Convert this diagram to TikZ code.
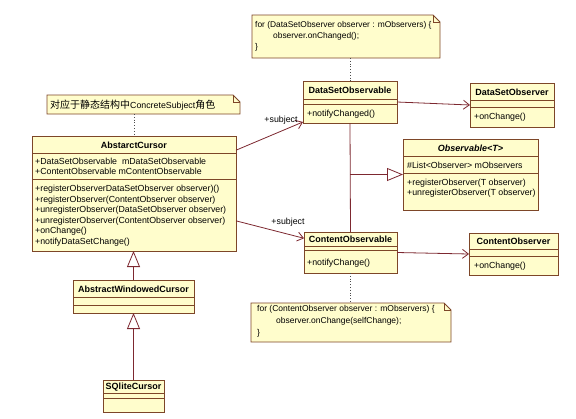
\documentclass[tikz,border=0pt]{standalone}
\usepackage{fontspec}
\setmainfont{Liberation Sans}
\newfontfamily\cjk{Noto Sans CJK SC}
\usetikzlibrary{arrows.meta}
\definecolor{clsfill}{RGB}{255,253,204}
\definecolor{clsdraw}{RGB}{125,70,40}
\definecolor{conn}{RGB}{125,40,48}
\tikzset{
  clsbox/.style={draw=clsdraw, fill=clsfill, line width=0.9pt, inner sep=0, outer sep=0},
  clsline/.style={draw=clsdraw, line width=0.9pt},
  noteline/.style={draw=clsdraw, fill=clsfill, line width=0.8pt},
  nm/.style={font=\fontsize{9}{10.5}\selectfont\bfseries, inner sep=0},
  txt/.style={anchor=west, inner sep=0, font=\fontsize{8.8}{10.5}\selectfont},
  txtblk/.style={anchor=north west, inner sep=0, align=left},
  assoc/.style={draw=conn, line width=0.8pt, -{Straight Barb[length=6pt,width=9pt]}},
  gen/.style={draw=conn, line width=0.8pt, -{Triangle[open,length=16pt,width=13pt]}},
  noteconn/.style={draw=black!70, line width=0.8pt, dotted},
}
\newcommand\umlbox[7]{%
  \node[clsbox, minimum width={#4-#2}, minimum height={#5-#3}, anchor=north west] (#1) at (#2,#3) {};
  \draw[clsline] (#2,#6) -- (#4,#6) (#2,#7) -- (#4,#7);
}
\newcommand\umlnote[5]{%
  \node[minimum width={#4-#2}, minimum height={#5-#3}, anchor=north west, inner sep=0, outer sep=0] (#1) at (#2,#3) {};
  \draw[noteline] (#1.north west) -- ([xshift=-7pt]#1.north east) -- ([yshift=-7pt]#1.north east) -- (#1.south east) -- (#1.south west) -- cycle;
  \draw[clsline, line width=0.8pt] ([xshift=-7pt]#1.north east) |- ([yshift=-7pt]#1.north east);
}
\begin{document}
\begin{tikzpicture}[x=1pt,y=-1pt]
\useasboundingbox[fill=white] (0,0) rectangle (576,418);

% notes
\umlnote{nA}{252}{15}{440}{58}
\umlnote{nB}{251}{303}{451}{342}
\umlnote{nC}{47}{95}{240}{114}

% classes
\umlbox{ac}{32}{136}{236}{251}{153}{179}
\umlbox{dso}{303}{81}{397}{123}{99}{104}
\umlbox{dsobs}{470}{83}{554}{127}{100}{107}
\umlbox{obs}{403}{139}{538}{210}{156}{173}
\umlbox{co}{304}{232}{397}{273}{246}{250}
\umlbox{cobs}{469}{233}{558}{275}{249}{256}
\umlbox{awc}{73}{280}{194}{313}{297}{305}
\umlbox{sq}{103}{380}{164}{412}{393}{398}

% note texts
\node[txtblk, font=\fontsize{8.4}{11}\selectfont] (nAt) at (255,21.2)
  {for (DataSetObserver observer : mObservers) \{\\\hspace*{18pt}observer.onChanged();\\\}};
\node[txtblk, font=\fontsize{8.5}{12}\selectfont] (nBt) at (257,305.5)
  {for (ContentObserver observer : mObservers) \{\\\hspace*{19pt}observer.onChange(selfChange);\\\}};
\node[txt] (nCt) at (50,105) {{\cjk\fontsize{10}{11}\selectfont 对应于静态结构中}ConcreteSubject{\cjk\fontsize{10}{11}\selectfont 角色}};

% class texts
\node[nm] (acN) at (134,145) {AbstarctCursor};
\node[txtblk, font=\fontsize{8.8}{10}\selectfont] (acA) at (35,157.9)
  {+DataSetObservable\ \ mDataSetObservable\\+ContentObservable mContentObservable};
\node[txtblk, font=\fontsize{8.8}{10.5}\selectfont] (acO) at (35,185.2)
  {+registerObserverDataSetObserver observer)()\\
   +registerObserver(ContentObserver observer)\\
   +unregisterObserver(DataSetObserver observer)\\
   +unregisterObserver(ContentObserver observer)\\
   +onChange()\\
   +notifyDataSetChange()};

\node[nm] (dsoN) at (350,90) {DataSetObservable};
\node[txt] (dsoO) at (307,114.3) {+notifyChanged()};
\node[nm] (dsobsN) at (512,92) {DataSetObserver};
\node[txt] (dsobsO) at (474,117) {+onChange()};
\node[nm, font=\fontsize{9}{10.5}\selectfont\bfseries\itshape] (obsN) at (470.5,148) {Observable<T>};
\node[txt] (obsA) at (407,165) {\#List<Observer> mObservers};
\node[txtblk, font=\fontsize{8.8}{9.6}\selectfont] (obsO) at (407,178.9)
  {+registerObserver(T observer)\\+unregisterObserver(T observer)};
\node[nm] (coN) at (350.5,239) {ContentObservable};
\node[txt] (coO) at (307,263) {+notifyChange()};
\node[nm] (cobsN) at (513.5,241.5) {ContentObserver};
\node[txt] (cobsO) at (474,266) {+onChange()};
\node[nm] (awcN) at (133.5,289) {AbstractWindowedCursor};
\node[nm] (sqN) at (133.5,387.5) {SQliteCursor};

% note connectors
\draw[noteconn] (nA.south -| dso.north) -- (dso.north);
\draw[noteconn] (co.south) -- (co.south |- nB.north);
\draw[noteconn] (ac.north |- nC.south) -- (ac.north);

% associations
\draw[assoc] (ac.23) -- (dso.203);
\draw[assoc] (ac.-15.6) -- (co.163);
\node[txt, anchor=center] (lbl1) at (281,120) {+subject};
\node[txt, anchor=center] (lbl2) at (288,222) {+subject};
\draw[assoc] (dso.east) -- (dsobs.west);
\draw[assoc] (co.east) -- (cobs.west);

% generalizations
\draw[conn, line width=0.8pt] (dso.south) -- (co.north);
\draw[gen] (dso.south |- obs.west) -- (obs.west);
\draw[gen] (awc.north) -- (awc.north |- ac.south);
\draw[gen] (sq.north) -- (sq.north |- awc.south);
\end{tikzpicture}
\end{document}
